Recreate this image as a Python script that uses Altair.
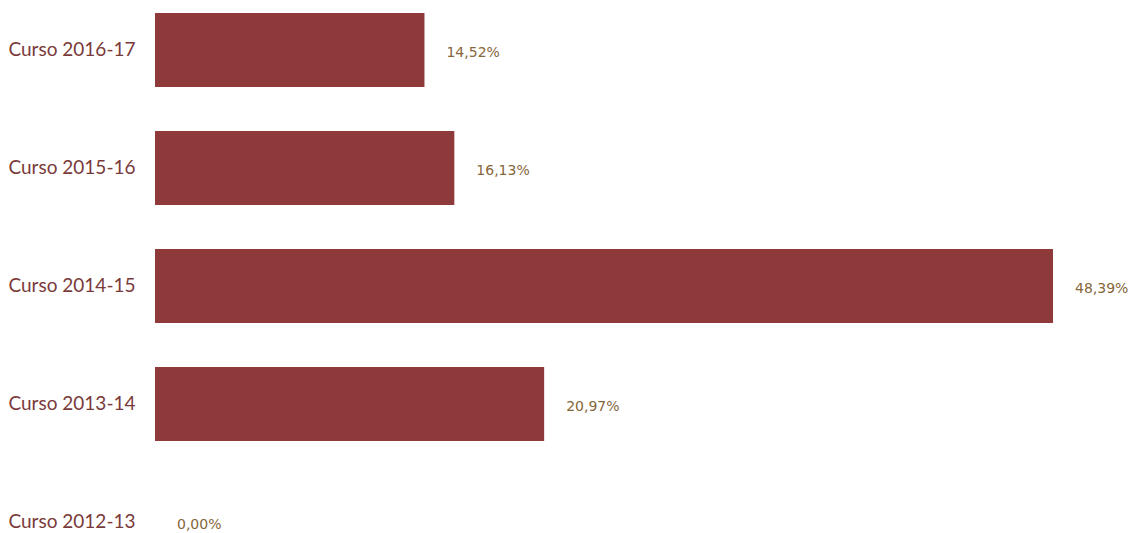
import altair as alt
import pandas as pd

cursos = ["Curso 2016-17", "Curso 2015-16", "Curso 2014-15", "Curso 2013-14", "Curso 2012-13"]
valores = [14.52, 16.13, 48.39, 20.97, 0.00]
etiquetas = ["14,52%", "16,13%", "48,39%", "20,97%", "0,00%"]

df = pd.DataFrame({"curso": cursos, "valor": valores, "etiqueta": etiquetas})

y_enc = alt.Y(
    "curso:N",
    sort=cursos,
    scale=alt.Scale(range=[5, 551], paddingInner=0.373, paddingOuter=0),
    axis=alt.Axis(
        title=None, domain=False, ticks=False, labelPadding=20,
        labelColor="#7A3A3A", labelFont="Lato", labelFontSize=19, labelFontWeight="normal",
    ),
)
x_enc = alt.X("valor:Q", scale=alt.Scale(domain=[0, 52], nice=False), axis=None)

bars = alt.Chart(df).mark_bar(color="#8E3A3A").encode(x=x_enc, y=y_enc)
text = alt.Chart(df).mark_text(
    align="left", baseline="middle", dx=22, dy=3, font="DejaVu Sans", fontSize=14, color="#86663A"
).encode(x=x_enc, y=y_enc, text="etiqueta:N")

chart = (
    alt.layer(bars, text)
    .properties(
        width=965, height=525,
        autosize=alt.AutoSizeParams(type="none"),
        padding={"left": 147, "top": 0, "right": 10, "bottom": 0},
        background="white",
    )
    .configure_view(stroke=None)
)

chart.save("out.html", embed_options={"renderer": "svg", "actions": False})
